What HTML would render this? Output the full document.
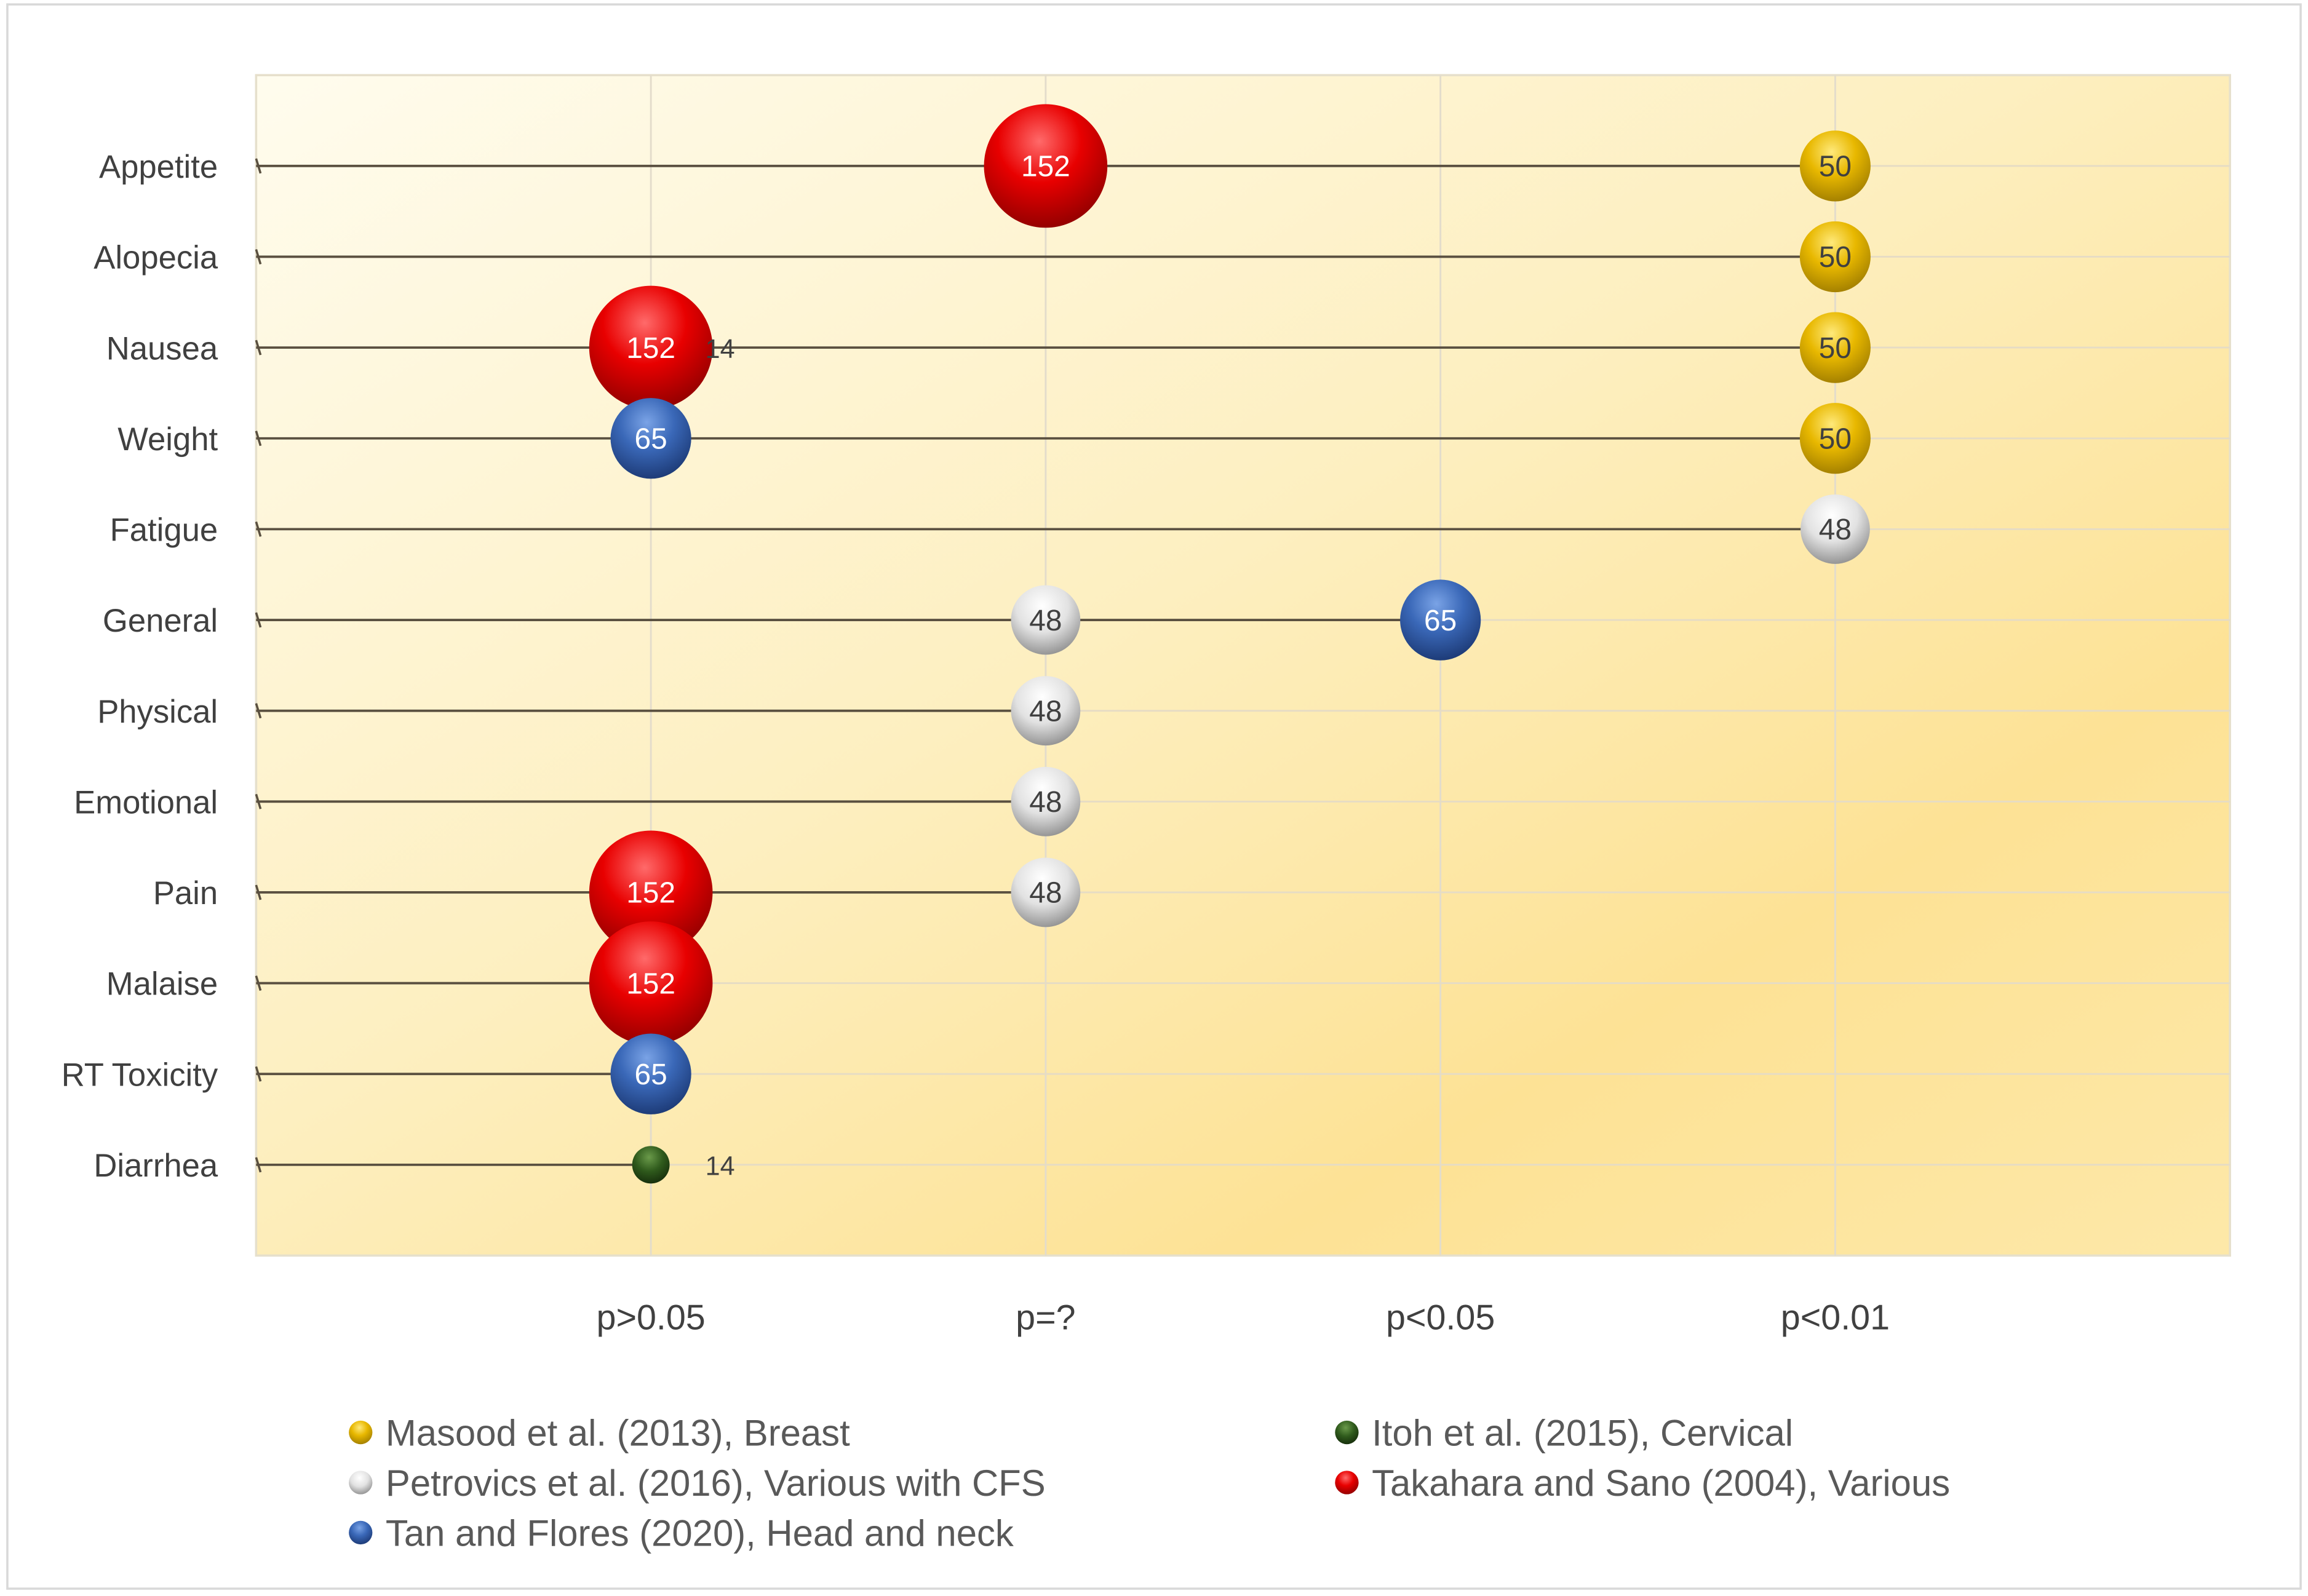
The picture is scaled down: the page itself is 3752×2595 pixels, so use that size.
<!DOCTYPE html>
<html><head><meta charset="utf-8"><style>
html,body{margin:0;padding:0;background:#fff;}
svg{display:block;}
text{font-family:"Liberation Sans",sans-serif;}
</style></head><body>
<svg id="chart" width="3752" height="2595" viewBox="0 0 1568 1083" preserveAspectRatio="none" xmlns="http://www.w3.org/2000/svg">
<defs>
<linearGradient id="bg" x1="0" y1="0" x2="1" y2="1">
<stop offset="0" stop-color="#fffcee"/><stop offset="0.45" stop-color="#fdefc0"/><stop offset="0.75" stop-color="#fde295"/><stop offset="1" stop-color="#fde8a8"/>
</linearGradient>
<radialGradient id="g-red" cx="0.45" cy="0.3" r="0.75"><stop offset="0" stop-color="#ff6a6a"/><stop offset="0.45" stop-color="#e80000"/><stop offset="1" stop-color="#8a0000"/></radialGradient>
<radialGradient id="g-gold" cx="0.45" cy="0.3" r="0.75"><stop offset="0" stop-color="#ffe97a"/><stop offset="0.45" stop-color="#e8b800"/><stop offset="1" stop-color="#9c7a00"/></radialGradient>
<radialGradient id="g-silver" cx="0.45" cy="0.3" r="0.75"><stop offset="0" stop-color="#ffffff"/><stop offset="0.5" stop-color="#e2e2e2"/><stop offset="1" stop-color="#8a8a8a"/></radialGradient>
<radialGradient id="g-blue" cx="0.45" cy="0.3" r="0.75"><stop offset="0" stop-color="#7aa3e6"/><stop offset="0.45" stop-color="#3a68b8"/><stop offset="1" stop-color="#1a3670"/></radialGradient>
<radialGradient id="g-green" cx="0.45" cy="0.3" r="0.75"><stop offset="0" stop-color="#6a9a4a"/><stop offset="0.5" stop-color="#2f5a1c"/><stop offset="1" stop-color="#142a0a"/></radialGradient>
</defs>
<rect x="5" y="3" width="1558" height="1075" fill="#fff" stroke="#d9d9d9" stroke-width="1.5"/>
<rect x="174" y="51" width="1341" height="801" fill="url(#bg)" stroke="#e6e0cc" stroke-width="1.5"/>
<g id="grid"></g><g id="stems"></g><g id="bubbles"></g><g id="axes"></g><g id="legend"></g>
</svg>
<script>
const rowLabels = ["Appetite","Alopecia","Nausea","Weight","Fatigue","General","Physical","Emotional","Pain","Malaise","RT Toxicity","Diarrhea"];
const xTickLabels = ["p>0.05","p=?","p<0.05","p<0.01"];
const seriesNames = ["Masood et al. (2013), Breast","Itoh et al. (2015), Cervical","Petrovics et al. (2016), Various with CFS","Takahara and Sano (2004), Various","Tan and Flores (2020), Head and neck"];
const seriesFills = ["url(#g-gold)","url(#g-green)","url(#g-silver)","url(#g-red)","url(#g-blue)"];
const seriesLabelColor = ["#404040","#404040","#404040","#ffffff","#ffffff"];
// points: row label, x-category (1..4), sample size
const masoodRows = ["Appetite","Alopecia","Nausea","Weight"];
const masoodX = [4,4,4,4];
const masoodN = [50,50,50,50];
const itohRows = ["Nausea","Diarrhea"];
const itohX = [1,1];
const itohN = [14,14];
const petrovicsRows = ["Fatigue","General","Physical","Emotional","Pain"];
const petrovicsX = [4,2,2,2,2];
const petrovicsN = [48,48,48,48,48];
const takaharaRows = ["Appetite","Nausea","Pain","Malaise"];
const takaharaX = [2,1,1,1];
const takaharaN = [152,152,152,152];
const tanRows = ["Weight","General","RT Toxicity"];
const tanX = [1,3,1];
const tanN = [65,65,65];

const NS="http://www.w3.org/2000/svg";
const PL=174,PR=1515,PT=51,PB=852;
const xScale=v=>PL+(PR-PL)*v/5;
const yScale=i=>PT+(PB-PT)*(i+1)/13;
const rScale=n=>3.4*Math.sqrt(n);
function mk(tag,attrs,parent){const e=document.createElementNS(NS,tag);for(const k in attrs)e.setAttribute(k,attrs[k]);parent.appendChild(e);return e;}
const grid=document.getElementById('grid'),stems=document.getElementById('stems'),bub=document.getElementById('bubbles'),axes=document.getElementById('axes'),leg=document.getElementById('legend');

xTickLabels.forEach((t,i)=>{
  const l=mk('line',{x1:xScale(i+1),x2:xScale(i+1),y1:PT,y2:PB,stroke:'#e3dccb','stroke-width':1.2},grid);
  
  
  const tx=mk('text',{x:xScale(i+1),y:902,'text-anchor':'middle','font-size':24,fill:'#404040'},axes);
  tx.textContent=t;
  
  
});
const allSeries=[[masoodRows,masoodX,masoodN],[itohRows,itohX,itohN],[petrovicsRows,petrovicsX,petrovicsN],[takaharaRows,takaharaX,takaharaN],[tanRows,tanX,tanN]];
rowLabels.forEach((r,i)=>{
  const y=yScale(i);
  const g=mk('line',{x1:PL,x2:PR,y1:y,y2:y,stroke:'#e6dcc4','stroke-width':1.2},grid);
  
  
  let maxX=0;
  allSeries.forEach(s=>s[0].forEach((rr,k)=>{if(rr===r)maxX=Math.max(maxX,s[1][k]);}));
  if(maxX>0){
    const st=mk('line',{x1:PL,x2:xScale(maxX),y1:y,y2:y,stroke:'#5a5040','stroke-width':1.6},stems);
    
    
  }
  const tk=mk('line',{x1:PL,x2:PL+3,y1:y-5,y2:y+5,stroke:'#5a5040','stroke-width':1.5},axes);
  
  
  const t=mk('text',{x:148,y:y+8,'text-anchor':'end','font-size':22,fill:'#404040'},axes);
  t.textContent=r;
  
  
});
const drawOrder=[1,3,4,0,2];
drawOrder.forEach(si=>{
  const s=allSeries[si];
  s[0].forEach((r,k)=>{
    const i=rowLabels.indexOf(r);
    const cx=xScale(s[1][k]),cy=yScale(i),rad=rScale(s[2][k]);
    const c=mk('circle',{cx:cx,cy:cy,r:rad,fill:seriesFills[si]},bub);
    
    
  });
});
drawOrder.forEach(si=>{
  const s=allSeries[si];
  s[0].forEach((r,k)=>{
    const i=rowLabels.indexOf(r);
    const cx=xScale(s[1][k]),cy=yScale(i);
    const small=s[2][k]<30;
    const t=mk('text',{x:small?cx+47:cx,y:cy+7,'text-anchor':'middle','font-size':small?18:20,fill:small?'#404040':seriesLabelColor[si]},bub);
    t.textContent=s[2][k];
    
    
  });
});
// legend
const legPos=[[245,972],[915,972],[245,1006],[915,1006],[245,1040]];
seriesNames.forEach((n,si)=>{
  const [x,y]=legPos[si];
  const m=mk('circle',{cx:x,cy:y,r:8,fill:seriesFills[si]},leg);
  
  
  const t=mk('text',{x:x+17,y:y+9,'font-size':25,fill:'#595959'},leg);
  t.textContent=n;
  
  
});
</script>
</body></html>
